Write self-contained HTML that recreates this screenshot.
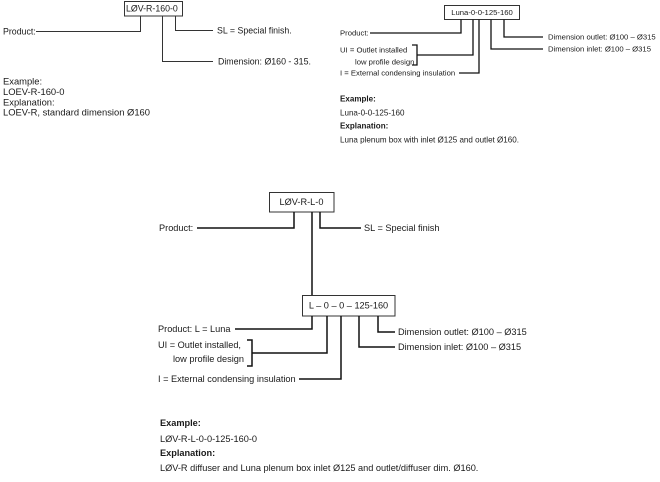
<!DOCTYPE html>
<html>
<head>
<meta charset="utf-8">
<style>
html,body{margin:0;padding:0;background:#fff;}
body{width:660px;height:482px;overflow:hidden;position:relative;}
svg{position:absolute;left:0;top:0;}
text{font-family:"Liberation Sans","DejaVu Sans",sans-serif;fill:#1a1a1a;}
.l{font-size:8.8px;}
.r{font-size:7.7px;}
.re{font-size:8.05px;}
.b{font-size:9.2px;}
.bold{font-weight:bold;}
</style>
</head>
<body>
<svg width="660" height="482" viewBox="0 0 660 482" xmlns="http://www.w3.org/2000/svg">
  <!-- LEFT DIAGRAM -->
  <g fill="none" stroke="#333" stroke-width="1">
    <rect x="124.5" y="1.5" width="58" height="14.5"/>
    <polyline points="36,31.5 140.5,31.5 140.5,16"/>
    <polyline points="175.5,16 175.5,30.5 213,30.5"/>
    <polyline points="162.5,16 162.5,61.5 213,61.5"/>
  </g>
  <g class="l">
    <text x="126" y="11.5">LØV-R-160-0</text>
    <text x="3" y="34.5">Product:</text>
    <text x="217" y="33.5">SL = Special finish.</text>
    <text x="218" y="64.5">Dimension: Ø160 - 315.</text>
  </g>
  <g font-size="9.4px">
    <text x="3" y="84.5">Example:</text>
    <text x="3" y="95">LOEV-R-160-0</text>
    <text x="3" y="105.5">Explanation:</text>
    <text x="3" y="115.5">LOEV-R, standard dimension Ø160</text>
  </g>

  <!-- RIGHT DIAGRAM -->
  <g fill="none" stroke="#111" stroke-width="1.3">
    <rect x="444.5" y="5.5" width="75" height="14" stroke="#333" stroke-width="1"/>
    <polyline points="370,33 461,33 461,19.5"/>
    <polyline points="412,45 417,45 417,65 412,65"/>
    <polyline points="417,55 473,55 473,19.5"/>
    <polyline points="459,73 479,73 479,19.5"/>
    <polyline points="504,19.5 504,37 543,37"/>
    <polyline points="491,19.5 491,49 543,49"/>
  </g>
  <g class="r">
    <text x="482" y="15" text-anchor="middle">Luna-0-0-125-160</text>
    <text x="340" y="35.7">Product:</text>
    <text x="340" y="52.7">UI = Outlet installed</text>
    <text x="355" y="64.7">low profile design</text>
    <text x="340" y="75.7">I = External condensing insulation</text>
    <text x="548" y="39.7">Dimension outlet: Ø100 – Ø315</text>
    <text x="548" y="51.7">Dimension inlet: Ø100 – Ø315</text>
  </g>
  <g class="re">
    <text x="340" y="101.7" class="bold">Example:</text>
    <text x="340" y="115.7">Luna-0-0-125-160</text>
    <text x="340" y="128.7" class="bold">Explanation:</text>
    <text x="340" y="142.7">Luna plenum box with inlet Ø125 and outlet Ø160.</text>
  </g>

  <!-- BOTTOM DIAGRAM -->
  <g fill="none" stroke="#111" stroke-width="1.5">
    <rect x="269.5" y="192.5" width="64.5" height="19.5" stroke="#333" stroke-width="1"/>
    <polyline points="197,228 294,228 294,212"/>
    <line x1="312" y1="212" x2="312" y2="295"/>
    <polyline points="320,212 320,228 361,228"/>
    <rect x="302.5" y="295.5" width="92.5" height="20.5" stroke="#333" stroke-width="1"/>
    <polyline points="235,329 312,329 312,316"/>
    <polyline points="247,340 252,340 252,366 247,366"/>
    <polyline points="252,353 327,353 327,316"/>
    <polyline points="299,379 341,379 341,316"/>
    <polyline points="378,316 378,332 395,332"/>
    <polyline points="359,316 359,347 395,347"/>
  </g>
  <g class="b">
    <text x="301.5" y="205.2" text-anchor="middle">LØV-R-L-0</text>
    <text x="159" y="231.2">Product:</text>
    <text x="364" y="231.2">SL = Special finish</text>
    <text x="348.5" y="308.5" text-anchor="middle">L – 0 – 0 – 125-160</text>
    <text x="158" y="332.2">Product: L = Luna</text>
    <text x="158" y="348.2">UI = Outlet installed,</text>
    <text x="173" y="362.2">low profile design</text>
    <text x="158" y="382.2">I = External condensing insulation</text>
    <text x="398" y="335.2">Dimension outlet: Ø100 – Ø315</text>
    <text x="398" y="350.2">Dimension inlet: Ø100 – Ø315</text>
    <text x="160" y="426.2" class="bold">Example:</text>
    <text x="160" y="442.2">LØV-R-L-0-0-125-160-0</text>
    <text x="160" y="456.2" class="bold">Explanation:</text>
    <text x="160" y="471.2">LØV-R diffuser and Luna plenum box inlet Ø125 and outlet/diffuser dim. Ø160.</text>
  </g>
</svg>
</body>
</html>
